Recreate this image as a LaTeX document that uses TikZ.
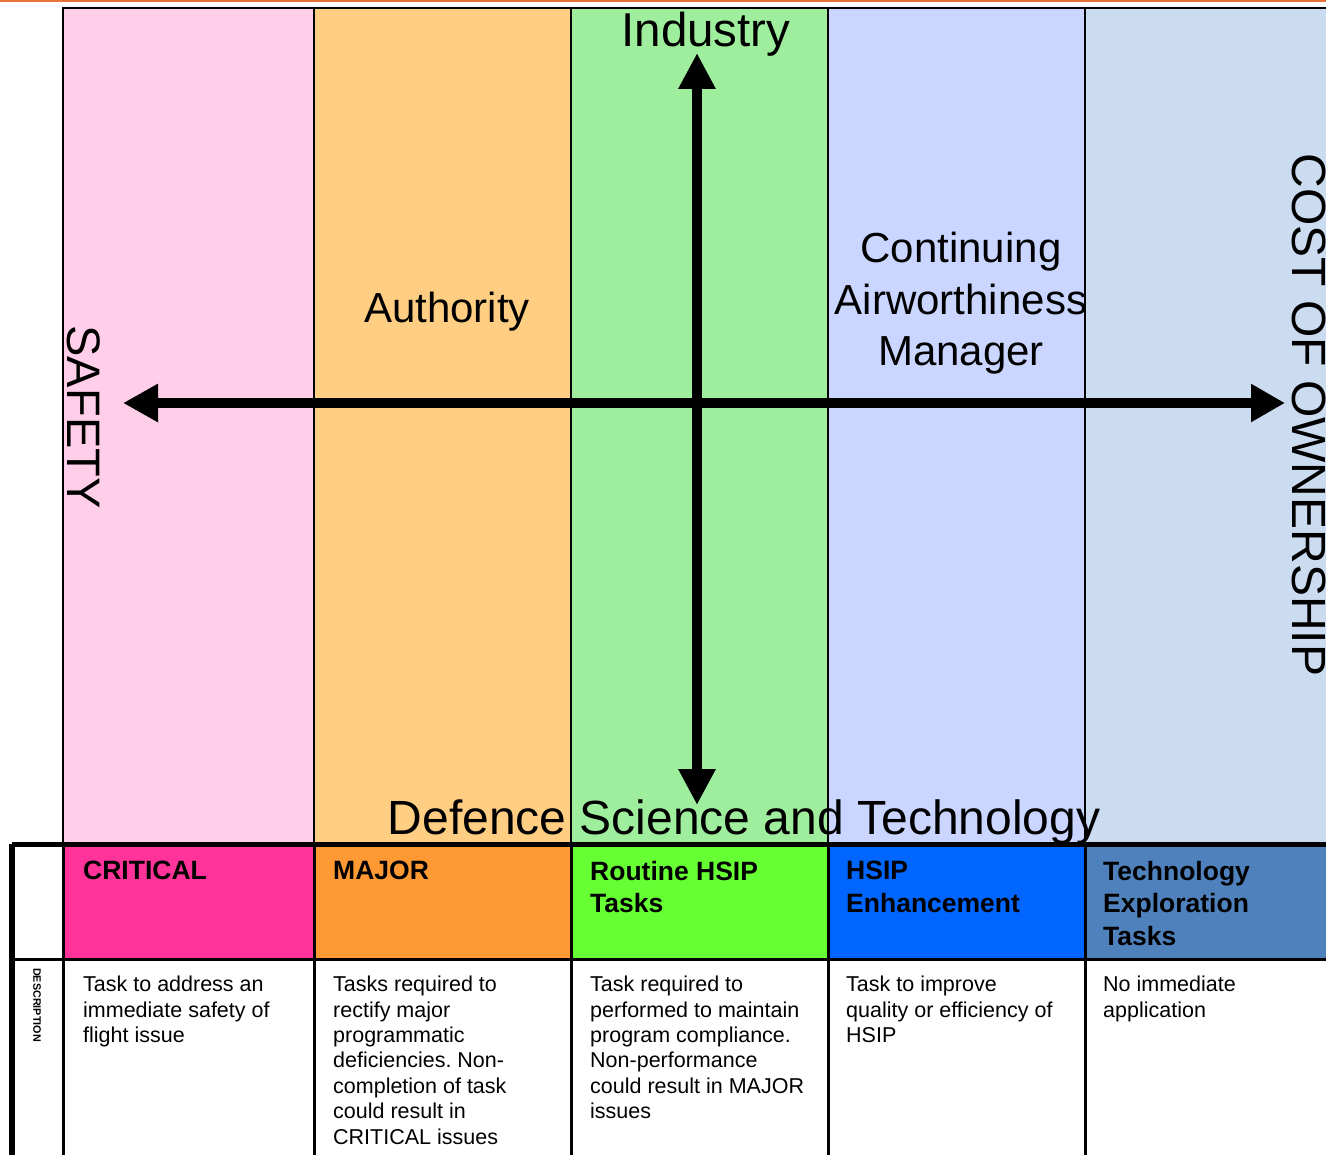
\documentclass[tikz,border=0pt]{standalone}
\usepackage{fontspec}
\setmainfont{Liberation Sans}
\frenchspacing
\usetikzlibrary{arrows.meta}
\definecolor{topline}{RGB}{232,112,58}
\definecolor{bandpink}{RGB}{255,206,232}
\definecolor{bandorange}{RGB}{255,206,130}
\definecolor{bandgreen}{RGB}{158,238,158}
\definecolor{bandblue}{RGB}{202,214,255}
\definecolor{bandsteel}{RGB}{204,220,240}
\definecolor{hdpink}{RGB}{255,51,153}
\definecolor{hdorange}{RGB}{255,153,51}
\definecolor{hdgreen}{RGB}{102,255,51}
\definecolor{hdblue}{RGB}{0,102,255}
\definecolor{hdsteel}{RGB}{79,129,189}
\begin{document}
\begin{tikzpicture}[x=1pt,y=-1pt,
  band/.style={draw=black, line width=2pt, inner sep=0pt, anchor=north west,
    minimum height=836pt},
  hdcell/.style={draw=black, line width=3pt, inner sep=0pt, anchor=north west,
    minimum height=114pt},
  desccell/.style={draw=black, line width=3pt, inner sep=0pt, anchor=north west,
    minimum height=214pt, fill=white},
  bigtext/.style={font=\fontsize{48}{52}\selectfont, inner sep=0pt},
  midtext/.style={font=\fontsize{42}{51.5}\selectfont, inner sep=0pt},
  hdtext/.style={font=\fontsize{26.5}{32.5}\selectfont\bfseries, inner sep=0pt,
    anchor=north west, align=left},
  dtext/.style={font=\fontsize{21.5}{25.4}\selectfont, inner sep=0pt,
    anchor=north west, align=left},
  bigarrowh/.style={line width=9.5pt,
    arrows={Triangle[length=35pt,width=36pt]-Triangle[length=34pt,width=36pt]}},
  bigarrowv/.style={line width=10.5pt,
    arrows={Triangle[length=36pt,width=35pt]-Triangle[length=36pt,width=35pt]}}
]
\useasboundingbox (0,0) rectangle (1326,1155);
\fill[white] (0,0) rectangle (1326,1155);
% top orange rule
\coordinate (tl) at (0,1);
\coordinate (tr) at (1326,1);
\draw[topline, line width=2.5pt] (tl) -- (tr);

% coloured bands
\node[band, fill=bandpink,   minimum width=251pt] (b1) at (62,7) {};
\node[band, fill=bandorange, minimum width=257pt] (b2) at (313,7) {};
\node[band, fill=bandgreen,  minimum width=257pt] (b3) at (570,7) {};
\node[band, fill=bandblue,   minimum width=257pt] (b4) at (827,7) {};
\node[band, fill=bandsteel,  minimum width=257pt] (b5) at (1084,7) {};

% table
\node[hdcell, fill=white,    minimum width=50pt]  (h0) at (12,844) {};
\node[hdcell, fill=hdpink,   minimum width=251pt] (h1) at (62,844) {};
\node[hdcell, fill=hdorange, minimum width=257pt] (h2) at (313,844) {};
\node[hdcell, fill=hdgreen,  minimum width=257pt] (h3) at (570,844) {};
\node[hdcell, fill=hdblue,   minimum width=257pt] (h4) at (827,844) {};
\node[hdcell, fill=hdsteel,  minimum width=257pt] (h5) at (1084,844) {};
\node[desccell, minimum width=50pt]  (d0) at (12,958) {};
\node[desccell, minimum width=251pt] (d1) at (62,958) {};
\node[desccell, minimum width=257pt] (d2) at (313,958) {};
\node[desccell, minimum width=257pt] (d3) at (570,958) {};
\node[desccell, minimum width=257pt] (d4) at (827,958) {};
\node[desccell, minimum width=257pt] (d5) at (1084,958) {};
% thick outer table rules
\draw[line width=5pt] (h0.north west) -- (h5.north east);
\draw[line width=6pt] (h0.north west) -- (d0.south west);

% arrows
\coordinate (west) at (123,403);
\coordinate (east) at (1285,403);
\coordinate (north) at (697,53);
\coordinate (south) at (697,805);
\draw[bigarrowh] (west) -- (east);
\draw[bigarrowv] (south) -- (north);

% band texts
\node[bigtext, anchor=base, font=\fontsize{47.5}{52}\selectfont] (industry) at (706,47) {Industry};
\node[midtext, anchor=base] (authority) at (447,323) {Authority};
\node[midtext, anchor=north, align=center] (cam) at (961,232) {Continuing\\Airworthiness\\Manager};
\node[bigtext, anchor=base] (dst) at (744,834) {Defence Science and Technology};
\node[bigtext, anchor=base, rotate=-90, font=\fontsize{47}{50}\selectfont] (safety) at (67,417) {SAFETY};
\node[bigtext, anchor=base, rotate=-90] (cost) at (1292,415) {COST OF OWNERSHIP};

% header texts
\node[hdtext] (t1) at (83,861) {CRITICAL};
\node[hdtext] (t2) at (333,861) {MAJOR};
\node[hdtext] (t3) at (590,861) {Routine HSIP\\Tasks};
\node[hdtext] (t4) at (846,861) {HSIP\\Enhancement};
\node[hdtext] (t5) at (1103,861) {Technology\\Exploration\\Tasks};

% description label
\node[font=\fontsize{10.8}{12}\selectfont\bfseries, inner sep=0pt, rotate=-90] (desc) at (37,1005) {DESCRIPTION};

% description texts
\node[dtext] (x1) at (83,976) {Task to address an\\immediate safety of\\flight issue};
\node[dtext] (x2) at (333,976) {Tasks required to\\rectify major\\programmatic\\deficiencies. Non-\\completion of task\\could result in\\CRITICAL issues};
\node[dtext] (x3) at (590,976) {Task required to\\performed to maintain\\program compliance.\\Non-performance\\could result in MAJOR\\issues};
\node[dtext] (x4) at (846,976) {Task to improve\\quality or efficiency of\\HSIP};
\node[dtext] (x5) at (1103,976) {No immediate\\application};
\end{tikzpicture}
\end{document}
